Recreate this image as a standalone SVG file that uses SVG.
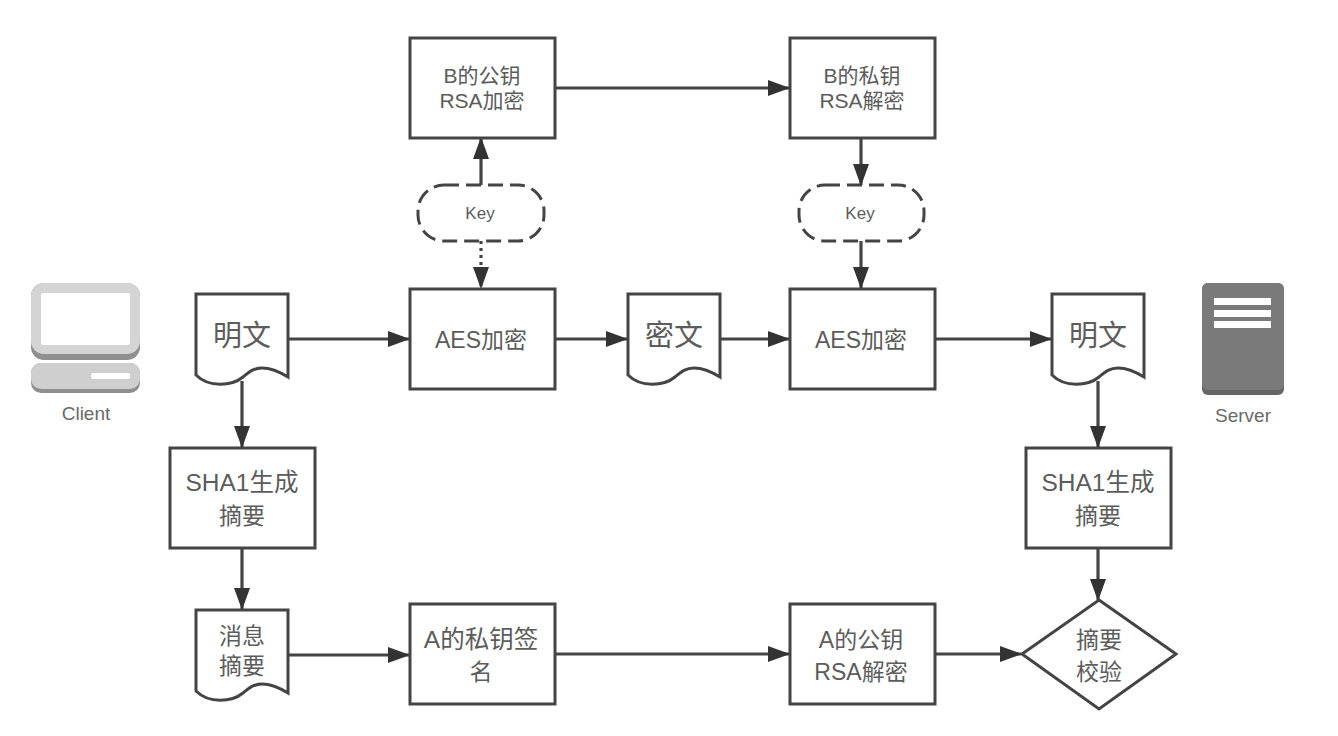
<svg xmlns="http://www.w3.org/2000/svg" width="1338" height="736" viewBox="0 0 1338 736">
<defs>
<marker id="arr" markerUnits="userSpaceOnUse" markerWidth="22" markerHeight="16" refX="21" refY="8" orient="auto"><path d="M0 0L22 8L0 16Z" fill="#333"/></marker>
<path id="doc" d="M0 0H92V83C84 78 75 74 66 74C57 74 52 79 47 83C36 92 13 94 0 81Z"/>
</defs>
<style>
.s{fill:#fff;stroke:#444;stroke-width:3}
.c{fill:none;stroke:#444;stroke-width:3.2;marker-end:url(#arr)}
.dot{stroke-dasharray:3 4}
text{font-family:"Liberation Sans","Noto Sans CJK SC",sans-serif;fill:#5c5c5c;text-anchor:middle}
.l{font-size:23px}.w{font-size:24.5px}.m{font-size:21px}.k{font-size:17px}.i{font-size:19px;fill:#6a6a6a}.b{font-size:29px}
.d{stroke:#444;stroke-width:3;fill:#fff;stroke-dasharray:15 7}
</style>
<rect width="1338" height="736" fill="#fff"/>
<g id="connectors">
<path class="c" d="M555 88H789"/>
<path class="c" d="M481 185V138"/>
<path class="c dot" d="M481 241V288"/>
<path class="c" d="M861 138V185"/>
<path class="c" d="M861 241V288"/>
<path class="c" d="M289 339H409"/>
<path class="c" d="M555 339H627"/>
<path class="c" d="M721 339H789"/>
<path class="c" d="M935 339H1051"/>
<path class="c" d="M242 381V447"/>
<path class="c" d="M1098 381V447"/>
<path class="c" d="M242 549V609"/>
<path class="c" d="M1098 549V600"/>
<path class="c" d="M289 655H409"/>
<path class="c" d="M555 654H789"/>
<path class="c" d="M935 654H1021"/>
</g>
<g id="client">
<rect x="31" y="283" width="109" height="77" rx="13" fill="#8f8f8f"/>
<rect x="31" y="283" width="109" height="71" rx="13" fill="#d4d4d4"/>
<rect x="41" y="293" width="89" height="52" rx="2" fill="#fff"/>
<rect x="31" y="363" width="109" height="30" rx="10" fill="#8f8f8f"/>
<rect x="31" y="363" width="109" height="26" rx="10" fill="#cfcfcf"/>
<rect x="91" y="373" width="39" height="6" rx="2" fill="#fff"/>
<text x="86" y="420" class="i">Client</text>
</g>
<g id="server">
<rect x="1202" y="283" width="82" height="112" rx="6" fill="#666"/>
<rect x="1202" y="283" width="82" height="107" rx="6" fill="#7a7a7a"/>
<rect x="1214" y="298" width="57" height="7" fill="#fff"/>
<rect x="1214" y="310" width="57" height="7" fill="#fff"/>
<rect x="1214" y="321" width="57" height="7" fill="#fff"/>
<text x="1243" y="422" class="i">Server</text>
</g>
<g id="n-b-pub"><rect class="s" x="410" y="38" width="145" height="100"/><text x="482" y="83" class="m">B的公钥</text><text x="482" y="108" class="m">RSA加密</text></g>
<g id="n-b-pri"><rect class="s" x="790" y="38" width="145" height="100"/><text x="862" y="83" class="m">B的私钥</text><text x="862" y="108" class="m">RSA解密</text></g>
<g id="n-key1"><rect class="d" x="418" y="185" width="126" height="56" rx="26"/><text x="480" y="219" class="k">Key</text></g>
<g id="n-key2"><rect class="d" x="799" y="185" width="125" height="56" rx="26"/><text x="860" y="219" class="k">Key</text></g>
<g id="n-plain1"><use href="#doc" class="s" x="196" y="294"/><text x="242" y="346" class="b">明文</text></g>
<g id="n-aes1"><rect class="s" x="410" y="289" width="145" height="100"/><text x="481" y="348" class="l">AES加密</text></g>
<g id="n-cipher"><use href="#doc" class="s" x="628" y="294"/><text x="674" y="346" class="b">密文</text></g>
<g id="n-aes2"><rect class="s" x="790" y="289" width="145" height="100"/><text x="861" y="348" class="l">AES加密</text></g>
<g id="n-plain2"><use href="#doc" class="s" x="1052" y="294"/><text x="1098" y="346" class="b">明文</text></g>
<g id="n-sha1"><rect class="s" x="170" y="448" width="145" height="100"/><text x="242" y="491" class="w">SHA1生成</text><text x="242" y="524" class="l">摘要</text></g>
<g id="n-sha2"><rect class="s" x="1026" y="448" width="145" height="100"/><text x="1098" y="491" class="w">SHA1生成</text><text x="1098" y="524" class="l">摘要</text></g>
<g id="n-digest"><use href="#doc" class="s" x="196" y="610"/><text x="242" y="644" class="l">消息</text><text x="242" y="674" class="l">摘要</text></g>
<g id="n-a-pri"><rect class="s" x="410" y="604" width="145" height="100"/><text x="481" y="648" class="w">A的私钥签</text><text x="481" y="680" class="l">名</text></g>
<g id="n-a-pub"><rect class="s" x="790" y="604" width="145" height="100"/><text x="861" y="648" class="l">A的公钥</text><text x="861" y="680" class="l">RSA解密</text></g>
<g id="n-check"><path class="s" d="M1099 600L1176 654L1099 709L1022 654Z"/><text x="1099" y="648" class="l">摘要</text><text x="1099" y="680" class="l">校验</text></g>
</svg>
